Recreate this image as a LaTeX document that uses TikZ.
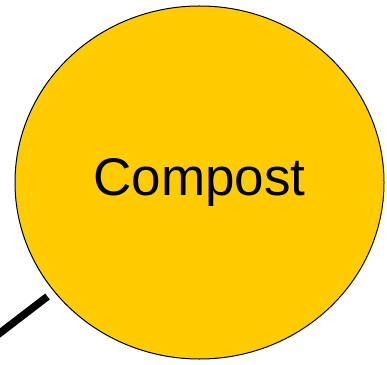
\documentclass[tikz,border=0pt]{standalone}
\usepackage{fontspec}
\setmainfont{Liberation Sans}
\usetikzlibrary{shapes.geometric}
\begin{document}
\begin{tikzpicture}[x=1pt,y=1pt,
  bubble/.style={ellipse, draw=black, line width=1pt, fill={rgb,255:red,255;green,204;blue,0}, minimum width=369pt, minimum height=353pt, inner sep=0pt, font=\fontsize{53}{60}\selectfont},
  thickline/.style={line width=7.5pt, draw=black}]
\useasboundingbox (0,0) rectangle (387,364);
\clip (0,0) rectangle (387,364);
\node[bubble] (compost) at (199.5,181.5) {Compost};
\coordinate (lstart) at (-4,28);
\coordinate (lend) at (47.5,67.5);
\draw[thickline] (lstart) -- (lend);
\end{tikzpicture}
\end{document}
